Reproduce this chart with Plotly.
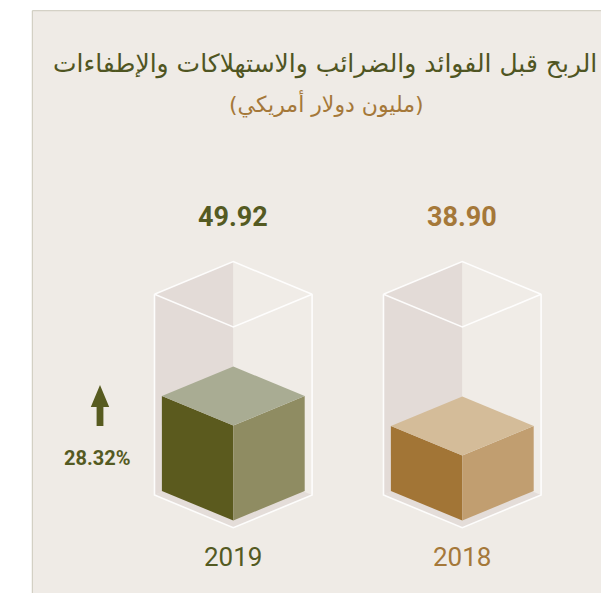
import plotly.graph_objects as go

# ---------------- data ----------------
CATEGORIES = ["2019", "2018"]
VALUES = [49.92, 38.90]
CHANGE_LABEL = "28.32%"
TITLE = "الربح قبل الفوائد والضرائب والاستهلاكات والإطفاءات"
SUBTITLE = "(مليون دولار أمريكي)"

# ---------------- styles ----------------
FACE_COLORS = [("#5B5A1E", "#8F8C62", "#A9AC93"),   # left, right, top
               ("#A27536", "#C19E70", "#D4BC99")]
TEXT_COLORS = ["#545A22", "#A57839"]
TITLE_COLOR = "#4F5522"
SUB_COLOR = "#A57839"
PANEL_BG = "#EFEBE6"
PANEL_LINE = "#CBC8BA"
WALL_DARK = "#E3DBD7"
WALL_LIGHT = "#F0ECE7"
FLOOR_COL = "#E4DDD9"

PAGE_W, PAGE_H = 601, 593
W, H = PAGE_W, PAGE_H
SLOT_PX = 229.0          # px between category centres
FIRST_CX_PX = 233.3      # px of first category centre
PX_PER_UNIT = 2.72       # px per value unit
AXIS_FLOOR = 15.0        # value at which the cubes stand
FLOOR_PX = 491.0         # px of AXIS_FLOOR

def ux(px):
    return px / SLOT_PX

def uy(px):
    return px / PX_PER_UNIT

def y_at_px(p):
    return AXIS_FLOOR + (FLOOR_PX - p) / PX_PER_UNIT

def x_at_px(p):
    return (p - FIRST_CX_PX) / SLOT_PX

def paper_x(p):
    return p / W

def paper_y(p):
    return 1 - p / H

CUBE_HALF = ux(71.4)
CUBE_DEPTH = uy(29.5)
BOX_HALF = ux(78.8)
BOX_DEPTH = uy(32.7)
BOX_TOP = y_at_px(294.3)
BOX_BOT = y_at_px(495.0)

fig = go.Figure()

def poly(xs, ys, color):
    fig.add_trace(go.Scatter(x=xs + [xs[0]], y=ys + [ys[0]], mode="lines",
                             fill="toself", fillcolor=color,
                             line=dict(width=0, color=color),
                             hoverinfo="skip", showlegend=False))

for i, (cat, val) in enumerate(zip(CATEGORIES, VALUES)):
    cx = i
    # container walls
    poly([cx - BOX_HALF, cx, cx, cx - BOX_HALF],
         [BOX_TOP, BOX_TOP + BOX_DEPTH, BOX_BOT + BOX_DEPTH, BOX_BOT], WALL_DARK)
    poly([cx, cx + BOX_HALF, cx + BOX_HALF, cx],
         [BOX_TOP + BOX_DEPTH, BOX_TOP, BOX_BOT, BOX_BOT + BOX_DEPTH], WALL_LIGHT)
    poly([cx - BOX_HALF, cx, cx + BOX_HALF, cx],
         [BOX_BOT, BOX_BOT + BOX_DEPTH, BOX_BOT, BOX_BOT - BOX_DEPTH], FLOOR_COL)
    # cube
    left_c, right_c, top_c = FACE_COLORS[i]
    yb, yt = AXIS_FLOOR, val
    poly([cx - CUBE_HALF, cx, cx, cx - CUBE_HALF],
         [yb, yb - CUBE_DEPTH, yt - CUBE_DEPTH, yt], left_c)
    poly([cx, cx + CUBE_HALF, cx + CUBE_HALF, cx],
         [yb - CUBE_DEPTH, yb, yt, yt - CUBE_DEPTH], right_c)
    poly([cx - CUBE_HALF, cx, cx + CUBE_HALF, cx],
         [yt, yt + CUBE_DEPTH, yt, yt - CUBE_DEPTH], top_c)
    # container outline
    ox = [cx - BOX_HALF, cx, cx + BOX_HALF, cx, cx - BOX_HALF, None,
          cx - BOX_HALF, cx - BOX_HALF, cx, cx + BOX_HALF, cx + BOX_HALF]
    oy = [BOX_TOP, BOX_TOP + BOX_DEPTH, BOX_TOP, BOX_TOP - BOX_DEPTH, BOX_TOP, None,
          BOX_TOP, BOX_BOT, BOX_BOT - BOX_DEPTH, BOX_BOT, BOX_TOP]
    fig.add_trace(go.Scatter(x=ox, y=oy, mode="lines",
                             line=dict(color="rgba(255,255,255,0.9)", width=1.6),
                             hoverinfo="skip", showlegend=False, connectgaps=False))
    # value label and year label
    fig.add_annotation(x=cx, y=y_at_px(217), xref="x", yref="y", text="<b>%.2f</b>" % val,
                       showarrow=False, font=dict(family="Roboto", size=27, color=TEXT_COLORS[i]))
    fig.add_annotation(x=cx, y=y_at_px(557), xref="x", yref="y", text=cat,
                       showarrow=False, font=dict(family="Roboto", size=26, color=TEXT_COLORS[i]))

# growth arrow
ax_c = 100.0
arrow_px = [(ax_c, 385), (ax_c + 9.2, 407), (ax_c + 3.4, 407), (ax_c + 3.4, 426),
            (ax_c - 3.4, 426), (ax_c - 3.4, 407), (ax_c - 9.2, 407)]
poly([x_at_px(p[0]) for p in arrow_px], [y_at_px(p[1]) for p in arrow_px], "#575B20")
fig.add_annotation(x=x_at_px(96.5), y=y_at_px(458), xref="x", yref="y",
                   text="<b>%s</b>" % CHANGE_LABEL, showarrow=False,
                   font=dict(family="Roboto", size=20, color="#545A22"))

# titles
fig.add_annotation(x=paper_x(50.7), y=paper_y(64), xref="paper", yref="paper", xanchor="left",
                   yanchor="middle", text=TITLE, showarrow=False,
                   font=dict(family="DejaVu Sans", size=25, color=TITLE_COLOR))
fig.add_annotation(x=paper_x(326), y=paper_y(104), xref="paper", yref="paper", xanchor="center",
                   yanchor="middle", text=SUBTITLE, showarrow=False,
                   font=dict(family="DejaVu Sans", size=22, color=SUB_COLOR))

# panel
fig.add_shape(type="rect", xref="paper", yref="paper", x0=paper_x(32.3), x1=1.05,
              y0=-0.05, y1=paper_y(10.7), fillcolor=PANEL_BG,
              line=dict(color=PANEL_LINE, width=1), layer="below")

fig.update_layout(
    width=W, height=H, margin=dict(l=0, r=0, t=0, b=0),
    paper_bgcolor="white", plot_bgcolor="rgba(0,0,0,0)",
    xaxis=dict(range=[x_at_px(0), x_at_px(PAGE_W)], visible=False, fixedrange=True),
    yaxis=dict(range=[y_at_px(PAGE_H), y_at_px(0)], visible=False, fixedrange=True),
    showlegend=False,
)

fig.write_html("out.html", config={"displayModeBar": False, "staticPlot": True},
               post_script="document.body.style.margin='0';document.body.style.overflow='hidden';")
